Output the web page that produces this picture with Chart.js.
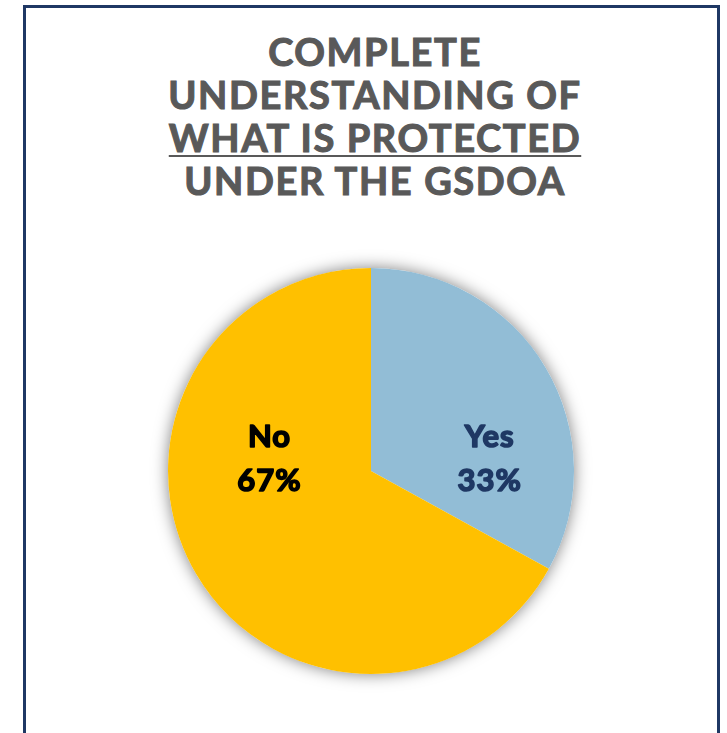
<!DOCTYPE html>
<html>
<head>
<meta charset="utf-8">
<script src="https://cdn.jsdelivr.net/npm/chart.js@4.4.0/dist/chart.umd.min.js"></script>
<style>
  html, body { margin: 0; padding: 0; background: #ffffff; }
  body { width: 727px; height: 733px; position: relative; overflow: hidden; }
  #frame {
    position: absolute; left: 23px; top: 5px; width: 691px; height: 760px;
    border: 3px solid #1F3864; box-sizing: content-box;
  }
  #title {
    position: absolute; left: 0; top: 30px; width: 750px;
    text-align: center; color: #595959;
    font-family: Lato, "Noto Sans", sans-serif; font-weight: 700;
    font-size: 38px; line-height: 43px; letter-spacing: 1.6px;
    -webkit-text-stroke: 1.1px #595959;
  }
  #title u { text-decoration-thickness: 2px; text-underline-offset: 3px; }
  #pieBox { position: absolute; left: 148px; top: 248px; width: 446px; height: 446px; }
</style>
</head>
<body>
<div id="frame"></div>
<div id="title">COMPLETE<br>UNDERSTANDING OF<br><u>WHAT IS PROTECTED</u><br>UNDER THE GSDOA</div>
<div id="pieBox"><canvas id="pie"></canvas></div>
<script>
const categories = ['Yes', 'No'];
const shares = [33, 67];
const sliceColors = ['#92BDD6', '#FFC000'];
const labelColors = ['#1F3864', '#000000'];

// soft drop shadow behind the whole pie, drawn once so slices don't shade each other
const pieShadow = {
  id: 'pieShadow',
  beforeDatasetsDraw(chart) {
    const arc = chart.getDatasetMeta(0).data[0];
    if (!arc) return;
    const ctx = chart.ctx;
    ctx.save();
    ctx.shadowColor = 'rgba(0,0,0,0.5)';
    ctx.shadowBlur = 16;
    ctx.fillStyle = '#ffffff';
    ctx.beginPath();
    ctx.arc(arc.x, arc.y, arc.outerRadius, 0, Math.PI * 2);
    ctx.fill();
    ctx.restore();
  }
};

// category + percent written inside each slice (stroked a little to thicken the bold)
const sliceLabels = {
  id: 'sliceLabels',
  afterDatasetsDraw(chart, args, opts) {
    const ctx = chart.ctx;
    chart.getDatasetMeta(0).data.forEach((arc, i) => {
      const [fx, fy] = opts.offsets[i];
      const x = arc.x + fx * arc.outerRadius;
      const y = arc.y + fy * arc.outerRadius;
      ctx.save();
      ctx.fillStyle = labelColors[i];
      ctx.strokeStyle = labelColors[i];
      ctx.lineWidth = 1.6;
      ctx.lineJoin = 'round';
      ctx.font = 'bold 31px Lato, "Noto Sans", sans-serif';
      ctx.letterSpacing = '1px';
      ctx.textAlign = 'center';
      ctx.textBaseline = 'middle';
      [categories[i], shares[i] + '%'].forEach((t, k) => {
        const ty = y + (k === 0 ? -22 : 22);
        ctx.fillText(t, x, ty);
        ctx.strokeText(t, x, ty);
      });
      ctx.restore();
    });
  }
};

new Chart(document.getElementById('pie'), {
  type: 'pie',
  data: {
    labels: categories,
    datasets: [{
      data: shares,
      backgroundColor: sliceColors,
      borderWidth: 0,
      hoverOffset: 0
    }]
  },
  options: {
    responsive: true,
    maintainAspectRatio: false,
    animation: false,
    layout: { padding: 20 },
    plugins: {
      legend: { display: false },
      tooltip: { enabled: false },
      sliceLabels: { offsets: [[0.585, -0.057], [-0.5, -0.057]] }
    }
  },
  plugins: [pieShadow, sliceLabels]
});
</script>
</body>
</html>
